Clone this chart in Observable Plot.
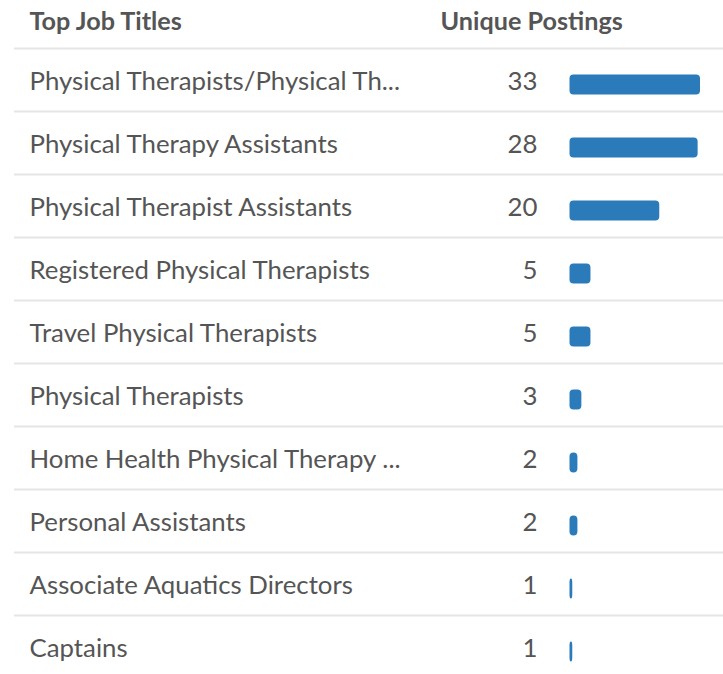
<!DOCTYPE html>
<html>
<head>
<meta charset="utf-8">
<script src="https://cdn.jsdelivr.net/npm/d3@7"></script>
<script src="https://cdn.jsdelivr.net/npm/@observablehq/plot@0.6"></script>
<style>
  html, body { margin: 0; padding: 0; background: #fff; }
  svg { display: block; }
</style>
</head>
<body>
<div id="chart"></div>
<script>
// Data
const titles = [
  "Physical Therapists/Physical Th...",
  "Physical Therapy Assistants",
  "Physical Therapist Assistants",
  "Registered Physical Therapists",
  "Travel Physical Therapists",
  "Physical Therapists",
  "Home Health Physical Therapy ...",
  "Personal Assistants",
  "Associate Aquatics Directors",
  "Captains"
];
const postings = [33, 28, 20, 5, 5, 3, 2, 2, 1, 1];
// bar lengths as drawn in the reference (in posting units)
const barValues = [33, 32.4, 22.7, 5.3, 5.3, 3, 2, 2, 0.7, 0.7];
const headers = ["Top Job Titles", "Unique Postings"];

const rows = titles.map((t, i) => ({title: t, postings: postings[i], bar: barValues[i]}));

const textColor = "#555555";
const font = "Lato, 'Open Sans', sans-serif";

const chart = Plot.plot({
  width: 723,
  height: 674,
  marginTop: 0,
  marginLeft: 14,
  marginRight: 0,
  marginBottom: 0,
  style: {fontFamily: font, background: "#fff"},
  x: {domain: [0, 33], range: [569.5, 700], axis: null},
  y: {type: "band", domain: titles, range: [48, 678], padding: 0, axis: null},
  marks: [
    // row separators (top of each row)
    Plot.ruleY(rows, {y: "title", dy: -31.5, stroke: "#e5e5e5", strokeWidth: 2}),
    // bars
    Plot.barX(rows, {
      x1: 0, x2: "bar", y: "title",
      insetTop: 26.5, insetBottom: 16.5,
      fill: "#2b7bba", rx: 4
    }),
    // titles
    Plot.text(rows, {
      y: "title", text: "title", frameAnchor: "left", dx: 15, dy: 1.5,
      textAnchor: "start", fontSize: 25.8, fill: textColor
    }),
    // values
    Plot.text(rows, {
      y: "title", text: "postings", frameAnchor: "left", dx: 523, dy: 1.5,
      textAnchor: "end", fontSize: 25.8, fill: textColor
    }),
    // headers
    Plot.text([headers[0]], {
      text: d => d, frameAnchor: "top-left", dx: 15, dy: 12,
      textAnchor: "start", fontSize: 25.2, fontWeight: "bold", fill: textColor
    }),
    Plot.text([headers[1]], {
      text: d => d, frameAnchor: "top-left", dx: 426, dy: 12,
      textAnchor: "start", fontSize: 25.2, fontWeight: "bold", fill: textColor
    })
  ]
});

document.getElementById("chart").appendChild(chart);
</script>
</body>
</html>
